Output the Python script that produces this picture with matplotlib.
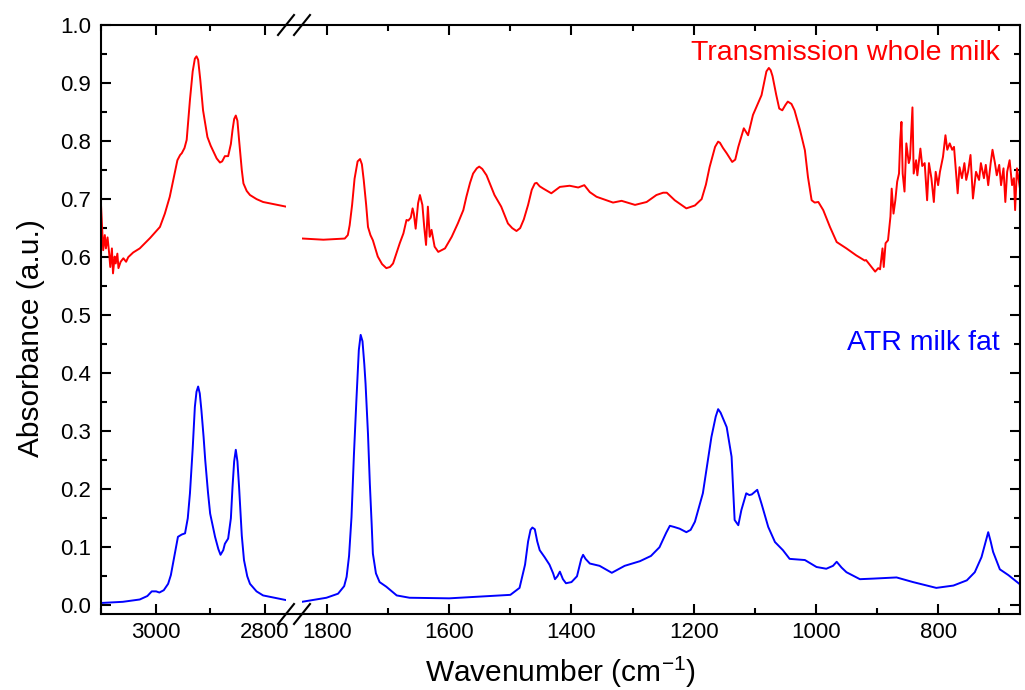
import matplotlib
matplotlib.use("Agg")
import matplotlib.pyplot as plt
from matplotlib.lines import Line2D
from matplotlib.ticker import MultipleLocator

plt.rcParams['font.family'] = ['Liberation Sans', 'DejaVu Sans']
plt.rcParams['mathtext.fontset'] = 'custom'
plt.rcParams['mathtext.rm'] = 'Liberation Sans'
plt.rcParams['mathtext.default'] = 'regular'

# ATR milk fat (blue), wavenumber in cm-1 / absorbance
atr_wn = [3100, 3060, 3029, 3015, 3007, 2999, 2993, 2985, 2977, 2972, 2968, 2963, 2959,
          2952, 2946, 2941, 2937, 2932, 2928, 2925, 2922, 2919, 2916, 2912,
          2909, 2904, 2900, 2891, 2885, 2881, 2876, 2873, 2867, 2862, 2859, 2856, 2853, 2850,
          2847, 2842, 2838, 2832, 2827, 2815, 2803, 2761,
          1841, 1801, 1782, 1772, 1768, 1764, 1760, 1756, 1752, 1748, 1745, 1742, 1739, 1737,
          1733, 1730, 1727, 1725, 1720, 1714, 1703,
          1686, 1665, 1600, 1500, 1485, 1476, 1471, 1467, 1464, 1460, 1456, 1452, 1444, 1436,
          1430, 1427, 1423, 1419, 1414, 1409, 1400, 1391, 1384, 1381, 1377, 1370, 1354, 1334,
          1313, 1288, 1270, 1256, 1245, 1239, 1232,
          1223, 1212, 1205, 1198, 1185, 1171, 1164, 1160, 1156, 1146, 1138, 1133, 1127, 1122,
          1114, 1109, 1105, 1096, 1089, 1078, 1067, 1054, 1043, 1018, 999, 983, 972, 966, 958,
          950, 928, 906, 868, 841, 803, 775, 753, 740, 729, 722, 718, 714, 710, 699, 685, 666]
atr_abs = [0.004, 0.006, 0.010, 0.016, 0.024, 0.024, 0.022, 0.026, 0.037, 0.052, 0.072, 0.097,
           0.118, 0.122, 0.124, 0.150, 0.193, 0.270, 0.342, 0.368, 0.377, 0.365, 0.336, 0.290,
           0.250, 0.195, 0.158, 0.118, 0.097, 0.087, 0.095, 0.106, 0.115, 0.150, 0.204, 0.248,
           0.268, 0.248, 0.204, 0.120, 0.078, 0.050, 0.037, 0.024, 0.017, 0.009,
           0.006, 0.013, 0.020, 0.033, 0.049, 0.085, 0.152, 0.260, 0.353, 0.440, 0.466, 0.455,
           0.415, 0.382, 0.295, 0.210, 0.140, 0.089, 0.055, 0.040, 0.032,
           0.017, 0.013, 0.012, 0.018, 0.030, 0.070, 0.110, 0.130, 0.134, 0.131, 0.110, 0.095,
           0.083, 0.070, 0.055, 0.045, 0.050, 0.058, 0.045, 0.038, 0.040, 0.050, 0.080, 0.087,
           0.080, 0.072, 0.068, 0.056, 0.068, 0.076, 0.085, 0.100, 0.125, 0.137, 0.135,
           0.132, 0.126, 0.130, 0.144, 0.193, 0.290, 0.325, 0.338, 0.332, 0.307, 0.256, 0.147,
           0.138, 0.164, 0.193, 0.190, 0.191, 0.199, 0.175, 0.135, 0.109, 0.095, 0.080, 0.078,
           0.066, 0.063, 0.068, 0.075, 0.065, 0.057, 0.045, 0.046, 0.048, 0.040, 0.030, 0.034,
           0.043, 0.057, 0.083, 0.110, 0.126, 0.110, 0.092, 0.062, 0.052, 0.036]

# Transmission whole milk (red)
tr_wn = [3100, 3096, 3093, 3091, 3088, 3085, 3083, 3080, 3078, 3075, 3073, 3070,
         3068, 3064, 3059, 3054, 3050, 3041, 3029, 3010, 2992, 2983, 2974, 2966, 2960,
         2955, 2952, 2947, 2943, 2937, 2932, 2928, 2925, 2922, 2918, 2913, 2905, 2899,
         2894, 2888, 2882, 2878, 2873, 2867, 2862, 2859, 2856, 2853, 2850, 2847,
         2842, 2839, 2833, 2827, 2815, 2803, 2761,
         1841, 1806, 1771, 1766, 1763, 1759, 1755, 1750, 1746, 1743, 1740, 1736, 1733, 1729,
         1725, 1717, 1710, 1703, 1697, 1692,
         1681, 1675, 1670, 1667, 1663, 1660, 1658, 1655, 1651, 1648, 1644, 1641,
         1638, 1635, 1632, 1629, 1627, 1624, 1618, 1607, 1596, 1586, 1577, 1572,
         1566, 1561, 1555, 1551, 1546, 1539, 1526, 1515, 1504, 1497, 1490, 1484, 1478, 1471,
         1465, 1460, 1457, 1452, 1446,
         1433, 1419, 1403, 1389, 1379, 1370, 1359, 1332, 1318, 1296, 1277, 1261, 1250, 1244,
         1238, 1231, 1212, 1198, 1187, 1180, 1174, 1165, 1160, 1157, 1152, 1146, 1137, 1132,
         1127, 1118, 1111, 1103, 1096,
         1089, 1084, 1081, 1077, 1074, 1071, 1065, 1060, 1055, 1050, 1046, 1040, 1035, 1026,
         1018, 1013, 1007, 1002,
         996, 988, 977, 966, 950, 934, 920, 918, 909, 903, 898, 895, 891, 889, 886,
         882, 878, 876, 873, 870, 867, 864, 862, 860, 858, 855, 852, 848, 846, 842,
         840, 836, 834, 829, 826, 822, 818, 815, 811, 807, 804, 800, 797, 792, 788,
         785, 781, 777, 774, 768, 765, 761, 757, 754, 751, 747, 743, 738, 733, 730,
         725, 722, 718, 714, 711, 707, 704, 700, 697, 693, 690, 687, 683, 679, 676,
         674, 671, 666]
tr_abs = [0.690, 0.612, 0.638, 0.615, 0.634, 0.606, 0.583, 0.615, 0.572, 0.601, 0.589, 0.606,
          0.581, 0.592, 0.598, 0.592, 0.600, 0.608, 0.615, 0.633, 0.652, 0.675, 0.704, 0.740, 0.767,
          0.776, 0.779, 0.788, 0.802, 0.871, 0.920, 0.942, 0.946, 0.940, 0.905, 0.853, 0.807, 0.792,
          0.782, 0.770, 0.763, 0.765, 0.774, 0.774, 0.795, 0.819, 0.838, 0.844, 0.835, 0.802,
          0.750, 0.727, 0.714, 0.707, 0.700, 0.695, 0.687,
          0.632, 0.630, 0.632, 0.638, 0.655, 0.690, 0.735, 0.765, 0.769, 0.760, 0.733, 0.690, 0.652, 0.638,
          0.629, 0.601, 0.588, 0.581, 0.583, 0.589,
          0.624, 0.641, 0.664, 0.663, 0.668, 0.684, 0.675, 0.649, 0.693, 0.707, 0.690, 0.652,
          0.621, 0.687, 0.635, 0.647, 0.635, 0.618, 0.609, 0.615, 0.635, 0.658, 0.681, 0.704,
          0.728, 0.744, 0.753, 0.756, 0.752, 0.741, 0.707, 0.687, 0.658, 0.650, 0.645, 0.650, 0.665, 0.690,
          0.716, 0.727, 0.728, 0.722, 0.718,
          0.710, 0.721, 0.723, 0.720, 0.724, 0.712, 0.704, 0.694, 0.697, 0.690, 0.695, 0.707, 0.711, 0.711,
          0.705, 0.698, 0.684, 0.689, 0.700, 0.725, 0.755, 0.790, 0.799, 0.797, 0.788, 0.779, 0.764, 0.768,
          0.790, 0.822, 0.810, 0.845, 0.862,
          0.879, 0.905, 0.920, 0.926, 0.922, 0.912, 0.880, 0.856, 0.853, 0.862, 0.868, 0.864, 0.853, 0.819,
          0.784, 0.738, 0.698, 0.694,
          0.695, 0.681, 0.652, 0.626, 0.615, 0.603, 0.594, 0.595, 0.583, 0.575, 0.581, 0.579, 0.615, 0.583, 0.624,
          0.629, 0.670, 0.718, 0.675, 0.698, 0.730, 0.744, 0.802, 0.833, 0.744, 0.713, 0.796, 0.762, 0.770, 0.858,
          0.744, 0.767, 0.741, 0.787, 0.757, 0.762, 0.698, 0.762, 0.736, 0.695, 0.747, 0.724, 0.747, 0.773, 0.810,
          0.785, 0.796, 0.785, 0.790, 0.710, 0.755, 0.736, 0.762, 0.733, 0.747, 0.776, 0.701, 0.747, 0.733, 0.762,
          0.736, 0.759, 0.724, 0.762, 0.785, 0.762, 0.741, 0.759, 0.724, 0.753, 0.695, 0.747, 0.767, 0.724, 0.736,
          0.681, 0.753, 0.718]

W, H = 1025, 690
fig = plt.figure(figsize=(W / 100, H / 100), dpi=100)

left, brk_l, brk_r, right = 101, 286, 302, 1020
bottom, top = 614, 25
ax1 = fig.add_axes([left / W, 1 - bottom / H, (brk_l - left) / W, (bottom - top) / H])
ax2 = fig.add_axes([brk_r / W, 1 - bottom / H, (right - brk_r) / W, (bottom - top) / H])

for ax in (ax1, ax2):
    ax.plot(tr_wn, tr_abs, color='#ff0000', lw=1.4, solid_joinstyle='round')
    ax.plot(atr_wn, atr_abs, color='#0000ff', lw=1.4, solid_joinstyle='round')
    ax.set_ylim(-0.015, 1.0)
    ax.yaxis.set_major_locator(MultipleLocator(0.1))
    ax.yaxis.set_minor_locator(MultipleLocator(0.05))
    ax.xaxis.set_minor_locator(MultipleLocator(100))
    ax.xaxis.set_major_locator(MultipleLocator(200))
    for s in ax.spines.values():
        s.set_linewidth(1.5)
    ax.tick_params(which='both', direction='in', top=True, width=1.5, labelsize=16)
    ax.tick_params(which='major', length=7.5)
    ax.tick_params(which='minor', length=4)
    ax.tick_params(axis='x', pad=6)
    ax.tick_params(axis='y', pad=7)

ax1.set_xlim(3100, 2761)
ax2.set_xlim(1841, 666)
ax1.spines['right'].set_visible(False)
ax2.spines['left'].set_visible(False)
ax1.tick_params(which='both', right=False)
ax2.tick_params(which='both', left=False, labelleft=False, right=True)
ax1.yaxis.set_major_formatter(plt.FuncFormatter(lambda v, p: f'{v:.1f}'))

# axis line across the break + double slashes
for yp in (bottom, top):
    fig.add_artist(Line2D([brk_l / W, brk_r / W], [1 - yp / H, 1 - yp / H],
                          color='black', lw=1.5))
    for xc in (brk_l, brk_r):
        fig.add_artist(Line2D([(xc - 8) / W, (xc + 8) / W],
                              [1 - (yp + 10) / H, 1 - (yp - 10) / H],
                              color='black', lw=1.5))

fig.text(1000 / W, 1 - 60 / H, 'Transmission whole milk', color='#ff0000',
         fontsize=20.5, ha='right', va='baseline')
fig.text(1000 / W, 1 - 350 / H, 'ATR milk fat', color='#0000ff',
         fontsize=20.5, ha='right', va='baseline')
fig.text(31 / W, 1 - 338 / H, 'Absorbance (a.u.)', fontsize=21.5,
         rotation=90, ha='center', va='center')
fig.text(560 / W, 1 - 682 / H, 'Wavenumber (cm$^{-1}$)', fontsize=21.5,
         ha='center', va='baseline')

fig.savefig('out.png', dpi=100, facecolor='white')
